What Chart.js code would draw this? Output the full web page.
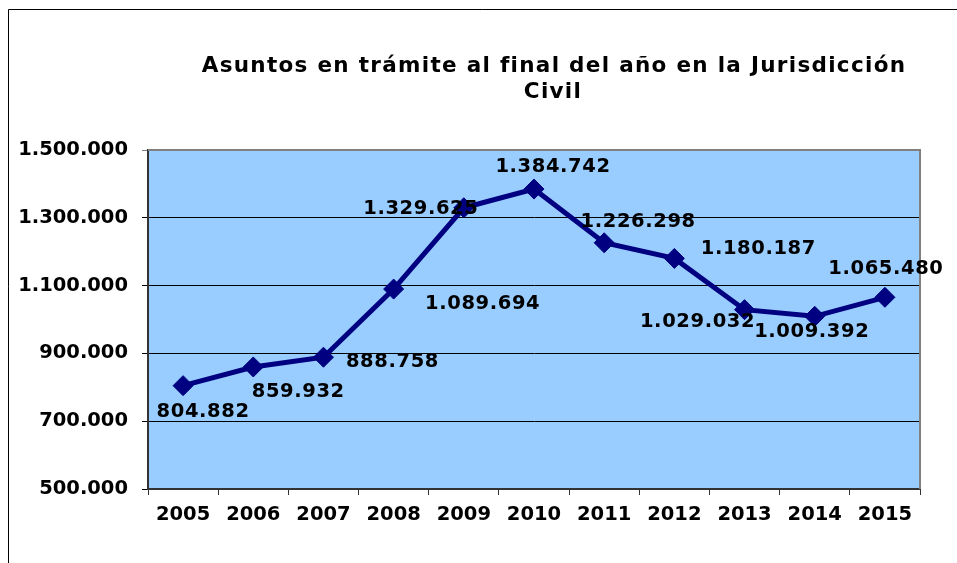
<!DOCTYPE html>
<html>
<head>
<meta charset="utf-8">
<script src="https://cdn.jsdelivr.net/npm/chart.js@4.4.1/dist/chart.umd.min.js"></script>
<style>
  html, body { margin: 0; padding: 0; background: #ffffff; }
  #wrap { position: relative; width: 957px; height: 563px; }
</style>
</head>
<body>
<div id="wrap"><canvas id="c" width="957" height="563"></canvas></div>
<script>
// ---- data ----
const titleLines = ['Asuntos en trámite al final del año en la Jurisdicción', 'Civil'];
const years = ['2005','2006','2007','2008','2009','2010','2011','2012','2013','2014','2015'];
const asuntos = [804882, 859932, 888758, 1089694, 1329625, 1384742, 1226298, 1180187, 1029032, 1009392, 1065480];
const yMin = 500000;
const yMax = 1500000;
const yStep = 200000;

// ---- label placement (styling, in px relative to the point) ----
const labelDx = [20, 45, 69, 89, -43, 19, 34, 84, -47, -3, 1];
const labelDy = [24, 23, 3, 13, -1, -24, -23, -11, 10, 14, -30];

const FONT = '"DejaVu Sans", Verdana, sans-serif';
const fmt = v => Math.round(v).toString().replace(/\B(?=(\d{3})+(?!\d))/g, '.');

const framePlugin = {
  id: 'frame',
  beforeDraw(chart) {
    const ctx = chart.ctx;
    const a = chart.chartArea;
    ctx.save();
    ctx.fillStyle = '#ffffff';
    ctx.fillRect(0, 0, chart.width, chart.height);
    // outer frame (top and left)
    ctx.strokeStyle = '#000000';
    ctx.lineWidth = 1;
    ctx.beginPath();
    ctx.moveTo(8.5, chart.height);
    ctx.lineTo(8.5, 9.5);
    ctx.lineTo(chart.width, 9.5);
    ctx.stroke();
    // plot background
    ctx.fillStyle = '#99CCFF';
    ctx.fillRect(a.left, a.top, a.right - a.left, a.bottom - a.top);
    // title
    ctx.fillStyle = '#000000';
    ctx.font = 'bold 21.5px ' + FONT;
    ctx.letterSpacing = '1.3px';
    ctx.textAlign = 'center';
    ctx.textBaseline = 'alphabetic';
    ctx.fillText(titleLines[0], 554, 72);
    ctx.fillText(titleLines[1], 553, 98);
    ctx.restore();
  },
  beforeDatasetsDraw(chart) {
    const ctx = chart.ctx;
    const a = chart.chartArea;
    ctx.save();
    ctx.strokeStyle = '#808080';
    ctx.lineWidth = 2;
    ctx.beginPath();
    ctx.moveTo(a.left, a.top);
    ctx.lineTo(a.right, a.top);
    ctx.lineTo(a.right, a.bottom);
    ctx.stroke();
    ctx.restore();
  },
  afterDatasetsDraw(chart) {
    const ctx = chart.ctx;
    const meta = chart.getDatasetMeta(0);
    ctx.save();
    ctx.fillStyle = '#000000';
    ctx.font = 'bold 19.5px ' + FONT;
    ctx.letterSpacing = '0.6px';
    ctx.textAlign = 'center';
    ctx.textBaseline = 'alphabetic';
    meta.data.forEach((pt, i) => {
      ctx.fillText(fmt(asuntos[i]), pt.x + labelDx[i], pt.y + labelDy[i] + 7);
    });
    ctx.restore();
  }
};

new Chart(document.getElementById('c'), {
  type: 'line',
  data: {
    labels: years,
    datasets: [{
      data: asuntos,
      borderColor: '#000080',
      backgroundColor: '#000080',
      borderWidth: 5,
      pointStyle: 'rectRot',
      pointRadius: 10,
      pointHoverRadius: 10,
      pointBorderWidth: 1,
      pointBackgroundColor: '#000080',
      pointBorderColor: '#000080',
      tension: 0,
      fill: false
    }]
  },
  options: {
    responsive: false,
    animation: false,
    devicePixelRatio: 1,
    events: [],
    layout: { padding: { top: 150, right: 37, bottom: 0, left: 0 } },
    plugins: { legend: { display: false }, tooltip: { enabled: false }, title: { display: false } },
    scales: {
      x: {
        type: 'category',
        offset: true,
        afterFit(s) { s.height = 74; },
        grid: {
          offset: true,
          drawOnChartArea: false,
          drawTicks: true,
          tickLength: 6,
          color: '#333333',
          lineWidth: 1
        },
        border: { display: true, color: '#333333', width: 2 },
        ticks: {
          color: '#000000',
          font: { family: FONT, size: 19.5, weight: 'bold' },
          padding: 8,
          maxRotation: 0,
          autoSkip: false
        }
      },
      y: {
        min: yMin,
        max: yMax,
        afterFit(s) { s.width = 148; },
        afterBuildTicks(s) {
          const t = [];
          for (let v = yMin; v <= yMax; v += yStep) t.push({ value: v });
          s.ticks = t;
        },
        grid: {
          drawOnChartArea: true,
          drawTicks: true,
          tickLength: 6,
          color: ctx => (ctx.tick && ctx.tick.value === yMax) ? '#808080' : '#000000',
          lineWidth: 1
        },
        border: { display: true, color: '#333333', width: 2 },
        ticks: {
          color: '#000000',
          font: { family: FONT, size: 19.5, weight: 'bold' },
          padding: 14,
          callback: v => fmt(v)
        }
      }
    }
  },
  plugins: [framePlugin]
});
</script>
</body>
</html>
